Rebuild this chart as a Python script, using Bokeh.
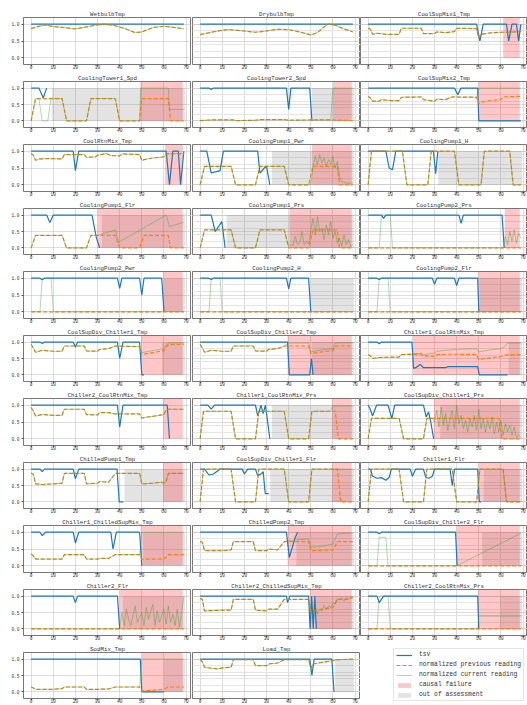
from bokeh.plotting import figure
from bokeh.layouts import column, row
from bokeh.models import Range1d, FixedTicker, Legend, LegendItem, Grid, NumeralTickFormatter
from bokeh.embed import file_html
from bokeh.resources import INLINE

# ---------------------------------------------------------------- axes
X_TICKS = [0, 10, 20, 30, 40, 50, 60, 70]
Y_TICKS = [0.0, 0.5, 1.0]
X_LIMITS = (-3.45, 72.45)
Y_LIMITS = (-0.2, 1.2)
FAILURE_TOP = 1.2      # causal-failure band spans 0 .. top of axes
ASSESS_TOP = 1.0       # out-of-assessment band spans 0 .. 1
NAN = float("nan")


def upto(points, x_last):
    return [p for p in points if p[0] <= x_last]


# ---------------------------------------------------------------- series
# each series is a list of (sample, value) vertices
WETBULB_TSV = [(0, 1.0), (69, 1.0)]
WETBULB_PREV = [(0, 0.87), (3, 0.93), (6, 0.98), (10, 0.93), (15, 0.90), (20, 0.86), (25, 0.92),
                (30, 0.98), (33, 1.0), (37, 0.97), (42, 0.88), (47, 0.75), (50, 0.77), (55, 0.90),
                (60, 0.94), (65, 0.90), (69, 0.86)]
WETBULB_CUR = WETBULB_PREV

DRYBULB_TSV = [(0, 1.0), (69, 1.0)]
DRYBULB_PREV = [(0, 0.69), (5, 0.76), (10, 0.82), (13, 0.84), (18, 0.81), (25, 0.76), (30, 0.80),
                (35, 0.85), (40, 0.84), (45, 0.77), (50, 0.68), (53, 0.75), (56, 0.92), (58, 1.0),
                (61, 0.97), (65, 0.86), (69, 0.77)]
DRYBULB_CUR = DRYBULB_PREV

CSM1_TSV = [(0, 1.0), (49, 1.0), (50.5, 0.5), (52, 1.0), (62.5, 1.0), (63.5, 0.5), (65, 1.0),
            (67, 1.0), (68, 0.5), (69, 1.0)]
CSM1_PREV = [(0, 0.88), (1, 0.85), (2, 0.70), (4, 0.73), (8, 0.70), (14, 0.70), (15, 0.88),
             (24, 0.88), (25, 0.72), (30, 0.72), (31, 0.77), (35, 0.75), (39, 0.78), (40, 0.88),
             (49, 0.87), (50, 0.58), (51, 0.70), (55, 0.74), (60, 0.76), (62, 0.76), (69, 0.78)]
CSM1_CUR = CSM1_PREV

CT1_TSV = [(0, 1.0), (3.5, 1.0), (5.5, 0.7), (7, 1.0)]
CT1_PREV = [(0, 0.0), (2, 0.68), (14, 0.68), (16, 0.0), (25, 0.0), (27, 0.68), (38, 0.68),
            (40, 0.0), (49, 0.0), (50, 0.68), (62, 0.68), (63, 0.0), (69, 0.0)]
CT1_CUR = [(0, 0.0), (2, 0.68), (3.5, 0.68), (5, 0.0), (7.5, 0.0), (9, 0.68), (14, 0.68),
           (16, 0.0), (25, 0.0), (27, 0.68), (38, 0.68), (40, 0.0), (49, 0.0), (49.5, 1.0),
           (62, 1.0), (62.5, 0.35), (69, 0.35)]

CT2_TSV = [(0, 1.0), (4, 1.0), (5, 0.96), (6, 1.0), (39, 1.0), (40, 0.35), (41, 1.0),
           (49.5, 1.0), (50.5, 0.0)]
CT2_PREV = [(0, 0.01), (5, 0.03), (15, 0.03), (16, 0.01), (25, 0.02), (27, 0.04), (38, 0.04),
            (40, 0.02), (50, 0.03), (59, 0.03), (69, 0.01)]
CT2_CUR = upto(CT2_PREV, 59) + [(60, 1.0), (69, 1.0)]

CSM2_TSV = [(0, 1.0), (39, 1.0), (40.5, 0.8), (42, 1.0), (49.5, 1.0), (50, 0.0), (69, 0.0)]
CSM2_PREV = [(0, 0.75), (1, 0.70), (2, 0.60), (5, 0.60), (6, 0.65), (10, 0.62), (14, 0.62),
             (15, 0.72), (24, 0.73), (25, 0.65), (30, 0.60), (31, 0.66), (35, 0.65), (38, 0.73),
             (49, 0.72), (50, 0.52), (51, 0.57), (55, 0.62), (60, 0.65), (61, 0.73), (69, 0.75)]
CSM2_CUR = upto(CSM2_PREV, 49) + [(50, 1.0), (69, 1.0)]

CRM_TSV = [(0, 1.0), (19, 1.0), (20, 0.42), (21.5, 1.0), (61, 1.0), (62.5, 0.0), (64, 1.0),
           (66.5, 1.0), (67.5, 0.0), (69, 1.0)]
CRM_PREV = [(0, 0.93), (1, 0.88), (2, 0.73), (4, 0.77), (8, 0.78), (14, 0.77), (15, 0.90),
            (24, 0.90), (25, 0.82), (29, 0.83), (30, 0.88), (34, 0.93), (36, 0.87), (40, 0.86),
            (41, 0.92), (49, 0.90), (50, 0.72), (51, 0.75), (55, 0.80), (60, 0.83), (61, 0.92),
            (69, 0.93)]
CRM_CUR = CRM_PREV

CP1PWR_TSV = [(0, 1.0), (3, 1.0), (5, 0.35), (9, 0.42), (10.5, 1.0), (26, 1.0), (27, 0.35),
              (29, 0.5), (30, 0.55), (31.5, 0.0)]
CP1PWR_PREV = [(0, 0.0), (2, 0.55), (14, 0.55), (16, 0.0), (25, 0.0), (27, 0.55), (38, 0.55),
               (40, 0.0), (49, 0.0), (51, 0.55), (62, 0.55), (63, 0.0), (69, 0.0)]
CP1PWR_CUR = upto(CP1PWR_PREV, 49) + [(50, 0.0), (51, 0.55), (52, 0.85), (53, 0.6), (54, 0.9),
                                      (55, 0.65), (56, 0.8), (57, 0.55), (58, 0.75), (59, 0.6),
                                      (60, 0.85), (61, 0.5), (62, 0.7), (63, 0.2), (64, 0.1),
                                      (66, 0.05), (69, 0.05)]

CP1H_TSV = [(0, 1.0), (8, 1.0), (9.5, 0.5), (11, 0.45), (12.5, 1.0), (29.5, 1.0), (30.5, 0.33),
            (31.5, 1.0)]
CP1H_PREV = [(0, 0.0), (1.5, 1.0), (15.5, 1.0), (17.5, 0.0), (27, 0.0), (28.5, 1.0), (39, 1.0),
             (41, 0.0), (51, 0.0), (52.5, 1.0), (64, 1.0), (65.5, 0.0), (69, 0.0)]
CP1H_CUR = CP1H_PREV

CP1FLR_TSV = [(0, 1.0), (7, 1.0), (8.5, 0.77), (10, 1.0), (27.5, 1.0), (29.5, 0.3), (31, 0.0)]
CP1FLR_PREV = [(0, 0.0), (2, 0.38), (14, 0.38), (16, 0.0), (25, 0.0), (27, 0.38), (38, 0.38),
               (40, 0.0), (49, 0.0), (51, 0.38), (62, 0.38), (63, 0.0), (69, 0.0)]
CP1FLR_CUR = [(0, 0.0), (2, 0.38), (14, 0.38), (16, 0.0), (25, 0.0), (27, 0.38), (30, 0.38),
              (38, 0.55), (39.5, 0.17), (61, 1.0), (62.5, 0.65), (69, 0.78)]

CP1PRS_TSV = [(0, 1.0), (5, 1.0), (6.8, 0.5), (9.8, 0.8), (11.3, 0.0)]
CP1PRS_PREV = [(0, 0.0), (2, 0.55), (14, 0.55), (16, 0.0), (25, 0.0), (27, 0.55), (38, 0.55),
               (40, 0.0), (49, 0.0), (51, 0.55), (62, 0.55), (63, 0.0), (69, 0.0)]
CP1PRS_CUR = upto(CP1PRS_PREV, 38) + [(40, 0.05), (41, 0.1), (42, 0.08), (43, 0.35), (44, 0.1),
                                      (45, 0.15), (46, 0.5), (47, 0.1), (48, 0.2), (49, 0.12),
                                      (50, 0.55), (51, 0.9), (52, 0.4), (53, 0.95), (54, 0.5),
                                      (55, 0.6), (56, 0.25), (57, 0.7), (58, 0.4), (59, 0.8),
                                      (60, 0.3), (61, 0.5), (62, 0.15), (63, 0.3), (64, 0.05),
                                      (65, 0.4), (66, 0.1), (67, 0.25), (68, 0.05), (69, 0.1)]

CP2PRS_TSV = [(0, 1.0), (6, 1.0), (7, 0.9), (8, 1.0), (41, 1.0), (42, 0.75), (43, 1.0),
              (60.5, 1.0), (61.5, 0.0)]
CP2PRS_PREV = [(0, 0.0), (69, 0.0)]
CP2PRS_CUR = [(0, 0.0), (5, 0.0), (6, 1.0), (10, 1.0), (11, 0.0), (61, 0.0), (62, 0.35),
              (63, 0.1), (64, 0.5), (65, 0.2), (66, 0.55), (67, 0.15), (68, 0.45), (69, 0.3)]

CP2PWR_TSV = [(0, 1.0), (4, 1.0), (5, 0.95), (6, 1.0), (39, 1.0), (40, 0.7), (41, 1.0),
              (49, 1.0), (50, 0.5), (51, 1.0), (59, 1.0), (60, 0.0)]
CP2PWR_PREV = [(0, 0.0), (69, 0.0)]
CP2PWR_CUR = [(0, 0.0), (4, 0.0), (5, 1.0), (9, 1.0), (10, 0.0), (69, 0.0)]

CP2H_TSV = [(0, 1.0), (4, 1.0), (5, 0.96), (6, 1.0), (39, 1.0), (40, 0.68), (41, 1.0),
            (49, 1.0), (50, 0.0)]
CP2H_PREV = [(0, 0.0), (69, 0.0)]
CP2H_CUR = [(0, 0.0), (4, 0.0), (5, 1.0), (9, 1.0), (10, 0.0), (69, 0.0)]

CP2FLR_TSV = [(0, 1.0), (4, 1.0), (5, 0.96), (6, 1.0), (29, 1.0), (30, 0.82), (31, 1.0),
              (39, 1.0), (40, 0.78), (41, 1.0), (49.5, 1.0), (50, 0.0)]
CP2FLR_PREV = [(0, 0.0), (69, 0.0)]
CP2FLR_CUR = [(0, 0.0), (4, 0.0), (5, 1.0), (9, 1.0), (10, 0.0), (69, 0.0)]

CSD1T_TSV = [(0, 1.0), (4, 1.0), (5, 0.96), (6, 1.0), (19, 1.0), (20, 0.85), (21, 1.0),
             (39, 1.0), (40, 0.5), (41.5, 1.0), (49, 1.0), (50, 0.0), (51, 0.0)]
CSD1T_PREV = [(0, 0.93), (1, 0.82), (2, 0.69), (5, 0.75), (10, 0.72), (14, 0.72), (15, 0.88),
              (24, 0.88), (25, 0.73), (30, 0.72), (31, 0.78), (35, 0.80), (38, 0.88), (49, 0.86),
              (50, 0.62), (55, 0.68), (60, 0.74), (61, 0.85), (62, 0.93), (69, 0.93)]
CSD1T_CUR = upto(CSD1T_PREV, 49) + [(50, 0.68), (55, 0.74), (60, 0.80), (61, 0.90), (62, 0.98),
                                    (69, 0.98)]

CSD2T_TSV = [(0, 1.0), (39.5, 1.0), (40.3, 0.0), (49.5, 0.0), (50.3, 0.5), (51, 0.0)]
CSD2T_PREV = [(0, 0.93), (1, 0.82), (2, 0.69), (5, 0.75), (10, 0.72), (14, 0.72), (15, 0.88),
              (24, 0.88), (25, 0.73), (30, 0.72), (31, 0.78), (35, 0.80), (38, 0.88), (49, 0.88),
              (50, 0.65), (55, 0.70), (60, 0.74), (61, 0.86), (62, 0.88), (69, 0.88)]
CSD2T_CUR = upto(CSD2T_PREV, 38) + [(40, 0.97), (49, 0.97), (50, 0.70), (55, 0.76), (60, 0.80),
                                    (61, 0.95), (62, 0.98), (69, 0.98)]

C1CRT_TSV = [(0, 1.0), (4, 1.0), (5, 0.95), (6, 1.0), (19.8, 1.0), (20.5, 0.2), (21.5, 0.22),
             (23.5, 0.32), (25, 0.22), (35, 0.22), (36, 0.25), (49.5, 0.25), (50.2, 0.0),
             (63, 0.0)]
C1CRT_PREV = [(0, 0.62), (1, 0.58), (2, 0.50), (5, 0.53), (10, 0.54), (14, 0.54), (15, 0.62),
              (24, 0.63), (25, 0.58), (30, 0.57), (31, 0.62), (35, 0.63), (40, 0.63), (49, 0.62),
              (50, 0.47), (55, 0.52), (60, 0.56), (62, 0.60), (63, 0.62), (69, 0.62)]
C1CRT_CUR = upto(C1CRT_PREV, 20) + [(24, 0.66), (25, 0.62), (30, 0.66), (31, 0.72), (35, 0.75),
                                    (40, 0.78), (49, 0.80), (50, 0.70), (55, 0.76), (60, 0.80),
                                    (62, 0.88), (63, 0.97), (69, 0.97)]

C2CRT_TSV = [(0, 1.0), (39, 1.0), (40, 0.35), (41.5, 1.0), (61.5, 1.0), (62.5, 0.0)]
C2CRT_PREV = [(0, 0.93), (1, 0.82), (2, 0.68), (5, 0.72), (10, 0.70), (14, 0.70), (15, 0.88),
              (24, 0.88), (25, 0.72), (30, 0.71), (31, 0.78), (35, 0.78), (38, 0.74), (49, 0.74),
              (50, 0.62), (55, 0.67), (60, 0.72), (61, 0.86), (62, 0.88), (69, 0.88)]
C2CRT_CUR = C2CRT_PREV

C1CRP_TSV = [(0, 1.0), (3.5, 1.0), (5, 0.88), (6.5, 1.0), (25, 1.0), (26, 0.68), (27.5, 1.0),
             (28.5, 0.75), (29.5, 1.0), (31.5, 0.0)]
C1CRP_PREV = [(0, 0.0), (1.5, 0.82), (14, 0.82), (16, 0.0), (25, 0.0), (26.5, 0.82), (38, 0.82),
              (40, 0.0), (49, 0.0), (50.5, 0.82), (61, 0.82), (62.5, 0.0), (69, 0.0)]
C1CRP_CUR = upto(C1CRP_PREV, 50.5) + [(59, 0.82), (60, 0.98), (69, 0.98)]

CSD1P_TSV = [(0, 1.0), (0.8, 0.9), (2, 0.68), (3.8, 1.0), (9, 1.0), (10.7, 0.6), (12, 1.0),
             (25, 1.0), (26.2, 0.65), (27.3, 0.8), (28.3, 0.5), (29.6, 0.0)]
CSD1P_PREV = [(0, 0.0), (1.5, 0.61), (14, 0.61), (16, 0.0), (25, 0.0), (26.5, 0.61), (59, 0.61),
              (60.5, 0.0), (69, 0.0)]
CSD1P_CUR = upto(CSD1P_PREV, 26.5) + [(29, 0.61), (30, 0.5), (31, 0.85), (32, 0.35), (33, 0.95),
                                      (34, 0.4), (35, 0.75), (36, 0.25), (37, 0.6), (38, 0.85),
                                      (39, 0.3), (40, 1.0), (41, 0.45), (42, 0.7), (43, 0.3),
                                      (44, 0.55), (45, 0.2), (46, 0.6), (47, 0.35), (48, 0.7),
                                      (49, 0.25), (50, 0.88), (51, 0.3), (52, 0.6), (53, 0.2),
                                      (54, 0.55), (55, 0.3), (56, 0.65), (57, 0.15), (58, 0.5),
                                      (59, 0.2), (60, 0.55), (61, 0.1), (62, 0.45), (63, 0.2),
                                      (64, 0.4), (65, 0.1), (66, 0.35), (67, 0.05), (68, 0.1),
                                      (69, 0.05)]

CHP1T_TSV = [(0, 1.0), (4, 1.0), (5, 0.92), (6, 1.0), (19, 1.0), (20, 0.7), (21.5, 1.0),
             (38.8, 1.0), (39.8, 0.0), (41.7, 0.0)]
CHP1T_PREV = [(0, 0.88), (1, 0.84), (2, 0.55), (5, 0.53), (10, 0.55), (14, 0.57), (15, 0.87),
              (24, 0.87), (25, 0.55), (30, 0.57), (31, 0.62), (35, 0.60), (38, 0.87), (49, 0.87),
              (50, 0.55), (55, 0.57), (59, 0.60), (60, 0.57), (61, 0.62), (62, 0.87), (69, 0.87)]
CHP1T_CUR = CHP1T_PREV

CSD1F_TSV = [(0, 1.0), (2, 1.0), (4, 0.82), (6, 0.85), (8, 0.95), (9, 1.0), (19, 1.0),
             (20, 0.85), (21.5, 1.0), (25, 1.0), (26, 0.8), (27.5, 0.85), (28.5, 0.92),
             (29.4, 0.25), (31, 0.25)]
CSD1F_PREV = [(0, 0.0), (1.5, 1.0), (14, 1.0), (16, 0.0), (25, 0.0), (26.5, 1.0), (38, 1.0),
              (40, 0.0), (49, 0.0), (50.5, 1.0), (62, 1.0), (63.5, 0.0), (69, 0.0)]
CSD1F_CUR = upto(CSD1F_PREV, 50.5) + [(69, 1.0)]

C1F_TSV = [(0, 1.0), (1, 1.0), (2, 0.78), (4, 0.72), (6, 0.74), (8, 0.66), (9.5, 0.75),
           (10.5, 1.0), (19, 1.0), (20, 0.78), (21.5, 1.0), (25, 1.0), (26, 0.75), (27.5, 0.72),
           (29, 0.78), (30, 1.0), (37, 1.0), (38, 0.5), (39, 1.0), (49.5, 1.0), (50.2, 0.0),
           (51, 0.0)]
C1F_PREV = [(0, 0.0), (1.5, 1.0), (14, 1.0), (16, 0.0), (25, 0.0), (26.5, 1.0), (38, 1.0),
            (40, 0.0), (49, 0.0), (50.5, 1.0), (61, 1.0), (62.5, 0.0), (69, 0.0)]
C1F_CUR = C1F_PREV

C1CSM_TSV = [(0, 1.0), (4, 1.0), (5, 0.9), (6.5, 1.0), (19, 1.0), (20, 0.68), (21.5, 1.0),
             (36, 1.0), (37, 0.5), (38.5, 1.0), (49, 1.0), (50, 0.0)]
C1CSM_PREV = [(0, 0.35), (1, 0.30), (2, 0.20), (10, 0.20), (14, 0.20), (15, 0.33), (24, 0.33),
              (25, 0.20), (30, 0.20), (31, 0.22), (35, 0.22), (38, 0.33), (49, 0.33), (50, 0.20),
              (60, 0.20), (62, 0.33), (69, 0.33)]
C1CSM_CUR = upto(C1CSM_PREV, 49) + [(50, 1.0), (69, 1.0)]

CHP2T_TSV = [(0, 1.0), (39, 1.0), (40.3, 0.25), (43, 0.85), (44, 1.0)]
CHP2T_PREV = [(0, 0.72), (1, 0.70), (2, 0.45), (10, 0.45), (14, 0.47), (15, 0.72), (24, 0.72),
              (25, 0.45), (30, 0.45), (31, 0.50), (35, 0.47), (38, 0.72), (49, 0.72), (50, 0.45),
              (60, 0.47), (62, 0.72), (69, 0.72)]
CHP2T_CUR = upto(CHP2T_PREV, 38) + [(40, 0.75), (49, 0.80), (50, 0.55), (55, 0.58), (60, 0.65),
                                    (62, 0.95), (69, 0.98)]

CSD2F_TSV = [(0, 1.0), (4, 1.0), (5, 0.95), (6, 1.0), (39.5, 1.0), (40.2, 0.0)]
CSD2F_PREV = [(0, 0.0), (69, 0.0)]
CSD2F_CUR = [(0, 0.0), (4, 0.0), (5, 0.85), (8, 0.85), (9, 0.0), (40, 0.0), (69, 0.97)]

C2F_TSV = [(0, 1.0), (19, 1.0), (20, 0.8), (21, 1.0), (39, 1.0), (40, 0.0)]
C2F_PREV = [(0, 0.0), (69, 0.0)]
C2F_CUR = [(0, 0.0), (40, 0.0), (41, 0.5), (42, 0.1), (43, 0.6), (44, 0.3), (45, 0.1),
           (47, 0.7), (48, 0.2), (50, 0.5), (51, 0.1), (52, 0.65), (53, 0.3), (55, 0.75),
           (56, 0.1), (57, 0.55), (58, 0.2), (60, 0.6), (61, 0.15), (62, 0.7), (63, 0.2),
           (64, 0.45), (65, 0.1), (66, 0.6), (67, 0.05), (68, 0.5), (69, 1.0)]

C2CSM_TSV = [(0, 1.0), (39, 1.0), (39.5, 0.8), (40.5, 1.0), (49, 1.0), (49.7, 0.0), (50.4, 1.0),
             (51.1, 0.0), (51.8, 1.0), (52.5, 0.0)]
C2CSM_PREV = [(0, 0.93), (1, 0.90), (2, 0.55), (10, 0.57), (14, 0.57), (15, 0.90), (24, 0.90),
              (25, 0.57), (30, 0.55), (31, 0.60), (35, 0.60), (38, 0.90), (49, 0.90), (50, 0.55),
              (55, 0.60), (60, 0.65), (62, 0.90), (66, 0.90), (69, 0.95)]
C2CSM_CUR = upto(C2CSM_PREV, 49) + [(50, 0.6), (51, 0.5), (52, 0.7), (53, 0.45), (54, 0.6),
                                    (55, 0.55), (56, 0.72), (57, 0.6), (58, 0.7), (59, 0.65),
                                    (60, 0.8), (61, 0.75), (62, 0.92), (63, 0.88), (64, 0.95),
                                    (65, 0.85), (66, 0.95), (67, 0.9), (68, 0.97), (69, 0.97)]

C2CRP_TSV = [(0, 1.0), (4, 1.0), (5, 0.8), (7, 1.0), (49.5, 1.0), (50, 0.0)]
C2CRP_PREV = [(0, 0.0), (69, 0.0)]
C2CRP_CUR = [(0, 0.0), (4, 0.0), (5, 1.0), (9, 1.0), (10, 0.0), (49.5, 0.0), (50, 0.39),
             (69, 0.39)]

SOD_TSV = [(0, 1.0), (49.3, 1.0), (50, 0.0), (59.9, 0.0)]
SOD_PREV = [(0, 0.15), (1, 0.12), (2, 0.08), (10, 0.08), (14, 0.10), (15, 0.15), (24, 0.15),
            (25, 0.08), (30, 0.08), (35, 0.09), (38, 0.15), (49, 0.15), (50, 0.03), (55, 0.05),
            (59, 0.08), (61, 0.12), (62, 0.15), (69, 0.15)]
SOD_CUR = upto(SOD_PREV, 49) + [(50, 1.0), (69, 1.0)]

LOAD_TSV = [(0, 1.0), (49.5, 1.0), (50.5, 0.5), (51.5, 1.0), (59.5, 1.0), (60.5, 0.0)]
LOAD_PREV = [(0, 0.98), (1, 0.92), (2, 0.75), (5, 0.72), (8, 0.70), (10, 0.73), (14, 0.75),
             (15, 0.98), (24, 0.98), (25, 0.80), (30, 0.80), (31, 0.85), (35, 0.88), (38, 0.98),
             (49, 0.98), (50, 0.72), (51, 0.85), (55, 0.90), (60, 0.95), (62, 0.98), (69, 1.0)]
LOAD_CUR = LOAD_PREV

# ---------------------------------------------------------------- panels
# (title, tsv, previous, current, causal-failure span, out-of-assessment span)
PANELS = [
    ("WetbulbTmp", WETBULB_TSV, WETBULB_PREV, WETBULB_CUR, None, None),
    ("DrybulbTmp", DRYBULB_TSV, DRYBULB_PREV, DRYBULB_CUR, None, None),
    ("CoolSupMix1_Tmp", CSM1_TSV, CSM1_PREV, CSM1_CUR, (61, 68.5), None),
    ("CoolingTower1_Spd", CT1_TSV, CT1_PREV, CT1_CUR, (49.3, 68.5), (9.3, 69.5)),
    ("CoolingTower2_Spd", CT2_TSV, CT2_PREV, CT2_CUR, (60, 68.5), (50.5, 69.5)),
    ("CoolSupMix2_Tmp", CSM2_TSV, CSM2_PREV, CSM2_CUR, (49.8, 68.5), None),
    ("CoolRtnMix_Tmp", CRM_TSV, CRM_PREV, CRM_CUR, (60.5, 68.5), None),
    ("CoolingPump1_Pwr", CP1PWR_TSV, CP1PWR_PREV, CP1PWR_CUR, (50.5, 68.5), (32.4, 69.5)),
    ("CoolingPump1_H", CP1H_TSV, CP1H_PREV, CP1H_CUR, None, (31.7, 69.5)),
    ("CoolingPump1_Flr", CP1FLR_TSV, CP1FLR_PREV, CP1FLR_CUR, (30, 68.5), (32, 69.5)),
    ("CoolingPump1_Prs", CP1PRS_TSV, CP1PRS_PREV, CP1PRS_CUR, (40.4, 68.5), (12, 69.5)),
    ("CoolingPump2_Prs", CP2PRS_TSV, CP2PRS_PREV, CP2PRS_CUR, (61.7, 68.5), None),
    ("CoolingPump2_Pwr", CP2PWR_TSV, CP2PWR_PREV, CP2PWR_CUR, (59.6, 68.5), (60, 69.5)),
    ("CoolingPump2_H", CP2H_TSV, CP2H_PREV, CP2H_CUR, None, (50, 69.5)),
    ("CoolingPump2_Flr", CP2FLR_TSV, CP2FLR_PREV, CP2FLR_CUR, (49.8, 68.5), (50.3, 69.5)),
    ("CoolSupDiv_Chiller1_Tmp", CSD1T_TSV, CSD1T_PREV, CSD1T_CUR, (49.6, 68.5), (59.1, 69.5)),
    ("CoolSupDiv_Chiller2_Tmp", CSD2T_TSV, CSD2T_PREV, CSD2T_CUR, (39.5, 68.5), (50.5, 69.5)),
    ("Chiller1_CoolRtnMix_Tmp", C1CRT_TSV, C1CRT_PREV, C1CRT_CUR, (20.2, 68.5), (63.5, 69.5)),
    ("Chiller2_CoolRtnMix_Tmp", C2CRT_TSV, C2CRT_PREV, C2CRT_CUR, (59.6, 68.5), None),
    ("Chiller1_CoolRtnMix_Prs", C1CRP_TSV, C1CRP_PREV, C1CRP_CUR, (59.6, 68.5), (32.4, 69.5)),
    ("CoolSupDiv_Chiller1_Prs", CSD1P_TSV, CSD1P_PREV, CSD1P_CUR, (29.6, 68.5), (32.6, 69.5)),
    ("ChilledPump1_Tmp", CHP1T_TSV, CHP1T_PREV, CHP1T_CUR, (59.6, 68.5), (42.2, 69.5)),
    ("CoolSupDiv_Chiller1_Flr", CSD1F_TSV, CSD1F_PREV, CSD1F_CUR, (59.6, 68.5), (31.7, 69.5)),
    ("Chiller1_Flr", C1F_TSV, C1F_PREV, C1F_CUR, (49.9, 68.5), (52.2, 69.5)),
    ("Chiller1_ChilledSupMix_Tmp", C1CSM_TSV, C1CSM_PREV, C1CSM_CUR, (49.6, 68.5), (50.5, 69.5)),
    ("ChilledPump2_Tmp", CHP2T_TSV, CHP2T_PREV, CHP2T_CUR, (39.5, 68.5), (43.5, 69.5)),
    ("CoolSupDiv_Chiller2_Flr", CSD2F_TSV, CSD2F_PREV, CSD2F_CUR, (40, 68.5), (51.5, 69.5)),
    ("Chiller2_Flr", C2F_TSV, C2F_PREV, C2F_CUR, (40, 68.5), (41.5, 69.5)),
    ("Chiller2_ChilledSupMix_Tmp", C2CSM_TSV, C2CSM_PREV, C2CSM_CUR, (49.5, 68.5), (52, 69.5)),
    ("Chiller2_CoolRtnMix_Prs", C2CRP_TSV, C2CRP_PREV, C2CRP_CUR, (49.6, 68.5), (59.7, 69.5)),
    ("SodMix_Tmp", SOD_TSV, SOD_PREV, SOD_CUR, (50, 68.5), (60, 69.5)),
    ("Load_Tmp", LOAD_TSV, LOAD_PREV, LOAD_CUR, None, (61, 69.5)),
]

LEGEND_LABELS = ["tsv", "normalized previous reading", "normalized current reading",
                 "causal failure", "out of assessment"]

# ---------------------------------------------------------------- style
BLUE, ORANGE, GREEN = "#1f77b4", "#ff7f0e", "#2ca02c"
RED_FILL, GREY_FILL, BAND_ALPHA = "#ff0000", "#808080", 0.22
GREEN_ALPHA = 0.38
FONT = "Liberation Mono"
TEXT = "#333333"
SPINE = "#555555"

N_COLS, N_ROWS = 3, 11
PAGE_H = 705
COL_WIDTHS = [191, 169, 167]
COL_LEFT_BORDER = [23, 1, 0]
FRAME_W = 168
TOP_FIRST, TOP_OTHER, BOTTOM = 17, 10, 6
FRAME_TOPS = [round(17.1 + 63.5 * r) for r in range(N_ROWS)]
FIG_TOPS = [0] + [FRAME_TOPS[r] - TOP_OTHER for r in range(1, N_ROWS)]
FIG_HEIGHTS = [FIG_TOPS[r + 1] - FIG_TOPS[r] for r in range(N_ROWS - 1)] + [PAGE_H - FIG_TOPS[-1]]


def make_panel(r, c, spec):
    title, tsv, prev, cur, red, grey = spec
    px_per_unit = FRAME_W / (X_LIMITS[1] - X_LIMITS[0])
    frame_w = COL_WIDTHS[c] - COL_LEFT_BORDER[c]
    x_end = X_LIMITS[0] + frame_w / px_per_unit
    p = figure(width=COL_WIDTHS[c], height=FIG_HEIGHTS[r], title=title,
               x_range=Range1d(X_LIMITS[0], x_end), y_range=Range1d(*Y_LIMITS),
               tools="", toolbar_location=None, output_backend="svg",
               y_axis_location="left" if c == 0 else None,
               min_border_left=COL_LEFT_BORDER[c], min_border_right=0,
               min_border_top=TOP_FIRST if r == 0 else TOP_OTHER, min_border_bottom=BOTTOM)
    p.title.align = "center"
    p.title.text_font = FONT
    p.title.text_font_size = "5.8px"
    p.title.text_font_style = "normal"
    p.title.text_color = TEXT
    p.title.standoff = 0
    p.title.offset = 0

    p.outline_line_color = SPINE
    p.outline_line_width = 0.8
    p.background_fill_color = "white"
    p.border_fill_color = "white"

    p.xaxis.ticker = FixedTicker(ticks=X_TICKS)
    p.xaxis.axis_line_color = None
    p.xaxis.major_tick_out = 2
    p.xaxis.major_tick_in = 0
    p.xaxis.major_tick_line_color = SPINE
    p.xaxis.minor_tick_line_color = None
    p.xaxis.major_label_standoff = -2
    p.xaxis.major_label_text_font = FONT
    p.xaxis.major_label_text_font_size = "4.5px"
    p.xaxis.major_label_text_color = TEXT
    p.xgrid.ticker = FixedTicker(ticks=X_TICKS)
    xgrid = p.xgrid[0]

    # shared y axis: labelled only on the first column
    if c == 0:
        p.yaxis.ticker = FixedTicker(ticks=Y_TICKS)
        p.yaxis.formatter = NumeralTickFormatter(format="0.0")
        p.yaxis.axis_line_color = None
        p.yaxis.major_tick_out = 2
        p.yaxis.major_tick_in = 0
        p.yaxis.major_tick_line_color = SPINE
        p.yaxis.minor_tick_line_color = None
        p.yaxis.major_label_standoff = 2
        p.yaxis.major_label_text_font = FONT
        p.yaxis.major_label_text_font_size = "4.5px"
        p.yaxis.major_label_text_color = TEXT
        p.ygrid.ticker = FixedTicker(ticks=Y_TICKS)
        ygrid = p.ygrid[0]
    else:
        ygrid = Grid(dimension=1, ticker=FixedTicker(ticks=Y_TICKS))
        p.add_layout(ygrid)
    for grid in (xgrid, ygrid):
        grid.grid_line_color = "#b0b0b0"
        grid.grid_line_alpha = 0.55
        grid.grid_line_width = 0.8

    if grey is not None:
        p.quad(left=[grey[0]], right=[grey[1]], bottom=[0], top=[ASSESS_TOP],
               fill_color=GREY_FILL, fill_alpha=BAND_ALPHA, line_color=None)
    if red is not None:
        p.quad(left=[red[0]], right=[red[1]], bottom=[0], top=[FAILURE_TOP],
               fill_color=RED_FILL, fill_alpha=BAND_ALPHA, line_color=None)

    p.line([q[0] for q in tsv], [q[1] for q in tsv], line_color=BLUE, line_width=1.2)
    p.line([q[0] for q in prev], [q[1] for q in prev], line_color=ORANGE, line_width=1.2,
           line_dash="4 2")
    p.line([q[0] for q in cur], [q[1] for q in cur], line_color=GREEN, line_width=1.0,
           line_alpha=GREEN_ALPHA)
    return p


def make_legend_panel(r):
    p = figure(width=COL_WIDTHS[2], height=FIG_HEIGHTS[r], x_range=Range1d(0, 1),
               y_range=Range1d(0, 1), tools="", toolbar_location=None, output_backend="svg",
               x_axis_location=None, y_axis_location=None, min_border=0,
               min_border_left=0, min_border_right=0, min_border_top=0, min_border_bottom=0,
               outline_line_color=None)
    p.xgrid.visible = False
    p.ygrid.visible = False
    # legend-only renderers: a single undefined point each, so nothing is drawn in the frame
    r_tsv = p.line(x=[NAN], y=[NAN], line_color=BLUE, line_width=1.2)
    r_prev = p.line(x=[NAN], y=[NAN], line_color=ORANGE, line_width=1.2, line_dash="4 2")
    r_cur = p.line(x=[NAN], y=[NAN], line_color=GREEN, line_width=1.0, line_alpha=GREEN_ALPHA)
    r_red = p.quad(left=[NAN], right=[NAN], bottom=[NAN], top=[NAN], fill_color=RED_FILL,
                   fill_alpha=BAND_ALPHA, line_color=None)
    r_grey = p.quad(left=[NAN], right=[NAN], bottom=[NAN], top=[NAN], fill_color=GREY_FILL,
                    fill_alpha=BAND_ALPHA, line_color=None)
    items = [LegendItem(label=lab, renderers=[rr])
             for lab, rr in zip(LEGEND_LABELS, [r_tsv, r_prev, r_cur, r_red, r_grey])]
    legend = Legend(items=items, location=(33, 4), orientation="vertical",
                    label_text_font=FONT, label_text_font_size="6.3px",
                    label_text_color=TEXT,
                    glyph_width=16, glyph_height=6,
                    label_height=7, label_standoff=7, spacing=3, padding=2, margin=0,
                    border_line_color="#cccccc", border_line_width=1,
                    background_fill_color="white", background_fill_alpha=0.9)
    p.add_layout(legend)
    return p


# the grid is assembled column by column so every figure keeps its own borders
columns = []
for c in range(N_COLS):
    figs = []
    for r in range(N_ROWS):
        idx = r * N_COLS + c
        if idx < len(PANELS):
            figs.append(make_panel(r, c, PANELS[idx]))
        else:
            figs.append(make_legend_panel(r))
    columns.append(column(*figs, spacing=0))

layout = row(*columns, spacing=0)
open("out.html", "w").write(file_html(layout, INLINE))
